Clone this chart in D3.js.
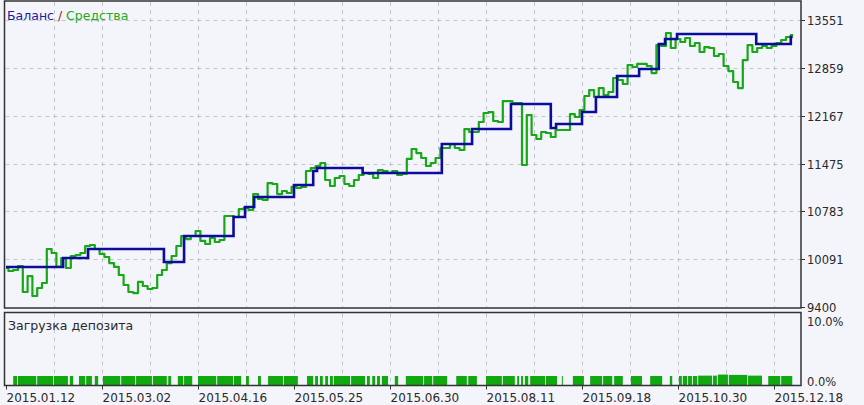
<!DOCTYPE html>
<html><head><meta charset="utf-8">
<script src="https://cdn.jsdelivr.net/npm/d3@7"></script>
<style>
html,body{margin:0;padding:0;background:#f4f4fb;}
svg{display:block;font-family:"DejaVu Sans",sans-serif;}
</style></head>
<body><svg id="c" width="864" height="405"></svg>
<script>
// ---- data ----
const dateLabels = ["2015.01.12","2015.03.02","2015.04.16","2015.05.25","2015.06.30","2015.08.11","2015.09.18","2015.10.30","2015.12.18"];
const dateLabelIdx = [0,20,40,60,80,100,120,140,160];
const yTicks = [9400,10091,10783,11475,12167,12859,13551];
const loadTicks = [0,10];

// equity ("Средства"), one value per step
const equity = [
9964,9921,9935,9993,9617,9848,9559,9675,9747,10239,
10181,9979,10109,9964,10138,10152,10181,10282,10297,10239,
10167,10123,10036,9979,9863,9718,9617,9602,9762,9704,
9660,9675,9863,9935,10036,10138,10282,10427,10383,10427,
10499,10355,10311,10398,10340,10369,10716,10716,10702,10817,
10832,10803,11034,10962,10948,11193,11179,11034,11078,11049,
11136,11121,11136,11367,11410,11439,11483,11237,11150,11266,
11295,11179,11150,11237,11309,11338,11324,11266,11381,11367,
11338,11367,11309,11324,11541,11685,11627,11555,11439,11483,
11555,11700,11700,11757,11700,11671,11974,11931,11931,12076,
12206,12220,12090,12076,12379,12379,12350,12350,11454,12177,
11888,11830,11931,11917,11859,11960,11960,11960,12191,12148,
12249,12452,12538,12437,12567,12466,12510,12712,12683,12625,
12900,12871,12915,12915,12886,12784,13189,13175,13363,13146,
13276,13233,13291,13175,13218,13088,13160,13146,13030,13059,
12886,12813,12654,12567,12972,13189,13088,13146,13175,13146,
13175,13218,13262,13305,13334];

// balance ("Баланс"): step index and new value
const balanceIdx = [0,11.9,17.1,32.9,37.1,47.4,49.8,51.7,60.0,64.0,64.8,74.3,90.8,97.1,105.2,113.5,114.6,120.0,122.9,127.3,131.9,136.0,137.3,139.8,156.3,163.5,163.9];
const balanceVal = [9979,10109,10239,10051,10427,10702,10846,10991,11165,11367,11410,11338,11757,11974,12336,11989,12047,12220,12437,12741,12842,13204,13276,13348,13204,13305,13305];

// deposit load ("Загрузка депозита"): segments start, end, value %
const loadStart = [1.5,2.5,6.5,10.0,13.3,15.2,16.7,18.5,20.2,24.0,27.1,30.6,33.8,35.8,37.1,40.0,44.0,47.5,50.0,52.5,54.6,57.9,62.7,64.4,65.4,66.5,67.5,68.3,71.9,75.2,76.3,77.3,78.3,81.0,83.3,87.1,89.0,93.8,96.3,100.0,103.5,106.5,107.3,108.1,109.2,112.5,115.8,118.1,121.7,124.4,126.7,130.2,134.2,138.3,140.2,141.0,142.1,143.1,144.2,147.3,148.3,150.6,154.6,158.8,161.5];
const loadEnd   = [2.3,6.3,9.8,12.9,14.0,16.5,17.9,19.2,23.8,26.9,30.4,33.5,34.4,36.9,38.8,43.8,47.3,49.0,50.6,53.1,57.7,60.8,64.0,65.0,66.0,67.1,68.1,71.7,74.8,75.8,76.9,77.9,79.6,81.7,86.9,88.8,91.9,96.0,98.1,103.3,106.0,106.9,107.7,108.8,112.3,114.8,116.0,120.4,124.2,126.3,128.5,132.5,136.7,138.8,140.8,141.9,142.9,144.0,147.1,148.1,150.4,154.4,157.5,161.3,163.8];
const loadVal   = [1.25,1.25,1.25,1.25,1.25,1.25,1.25,1.25,1.25,1.25,1.25,1.25,1.25,1.25,1.25,1.25,1.25,1.25,1.25,1.25,1.25,1.25,1.25,1.25,1.25,1.25,1.25,1.25,1.25,1.25,1.25,1.25,1.25,1.25,1.25,1.25,1.25,1.25,1.25,1.25,1.25,1.25,1.25,1.25,1.25,1.25,1.25,1.25,1.25,1.25,1.25,1.25,1.25,1.25,1.25,1.25,1.25,1.25,1.3,1.3,1.45,1.4,1.3,1.25,1.25];

// ---- chart ----
const svg = d3.select("#c");
const L = 4.5, R = 801, T = 1, B = 308, T2 = 312.5, B2 = 385.5;
const x = d3.scaleLinear().domain([0,165.625]).range([6,801]);
const y = d3.scaleLinear().domain([9400,13551]).range([307,20]);
const yl = d3.scaleLinear().domain([0,10]).range([385,313]);
const gridCol = "#c4c4cc", textCol = "#2a2a2a";

svg.append("rect").attr("width",864).attr("height",405).attr("fill","#f4f4fb");

// grids
const gridIdx = d3.range(10,166,10);
const g = svg.append("g").attr("stroke",gridCol).attr("stroke-dasharray","4,4").attr("stroke-width",1);
gridIdx.forEach(i=>{
  const xx = Math.round(x(i))+0.5;
  g.append("line").attr("x1",xx).attr("x2",xx).attr("y1",T+1).attr("y2",B);
  g.append("line").attr("x1",xx).attr("x2",xx).attr("y1",T2+1).attr("y2",B2);
});
yTicks.slice(1).forEach(v=>{
  const yy = Math.round(y(v))+0.5;
  g.append("line").attr("x1",L+1).attr("x2",R).attr("y1",yy).attr("y2",yy);
});

// deposit load bars
svg.append("g").selectAll("rect").data(loadStart.map((s,i)=>({s,e:loadEnd[i],v:loadVal[i]})))
  .join("rect")
  .attr("x",d=>x(d.s)).attr("width",d=>Math.max(1,x(d.e)-x(d.s)))
  .attr("y",d=>yl(d.v)).attr("height",d=>yl(0)-yl(d.v))
  .attr("fill","#0fa80f");

// equity line
const eqLine = d3.line().x((d,i)=>x(i)).y(d=>y(d)).curve(d3.curveStep);
svg.append("path").datum(equity).attr("d",eqLine)
  .attr("fill","none").attr("stroke","#16a816").attr("stroke-width",2.2).attr("stroke-linejoin","round");

// balance line
const balLine = d3.line().x(d=>x(d[0])).y(d=>y(d[1])).curve(d3.curveStepAfter);
svg.append("path").datum(balanceIdx.map((b,i)=>[b,balanceVal[i]])).attr("d",balLine)
  .attr("fill","none").attr("stroke","#0c0c9c").attr("stroke-width",2.6);

// borders
svg.append("rect").attr("x",L).attr("y",T).attr("width",R-L).attr("height",B-T)
  .attr("fill","none").attr("stroke","#333").attr("stroke-width",1.5);
svg.append("rect").attr("x",L).attr("y",T2).attr("width",R-L).attr("height",B2-T2)
  .attr("fill","none").attr("stroke","#333").attr("stroke-width",1.5);

// right axis
const ay = svg.append("g").attr("font-size",11.5).attr("fill",textCol);
yTicks.forEach(v=>{
  const yy = Math.round(y(v))+0.5;
  ay.append("line").attr("x1",R).attr("x2",R+4).attr("y1",yy).attr("y2",yy).attr("stroke","#333");
  ay.append("text").attr("x",807).attr("y",yy).attr("dy","0.35em").text(v);
});
loadTicks.forEach(v=>{
  ay.append("text").attr("x",807).attr("y",v===0?382:322).attr("dy","0.35em").text(v.toFixed(1)+"%");
});

// bottom axis
const ax = svg.append("g").attr("font-size",12).attr("fill",textCol);
dateLabelIdx.forEach((d,i)=>{
  const xx = Math.round(x(d))+0.5;
  ax.append("line").attr("x1",xx).attr("x2",xx).attr("y1",B2).attr("y2",B2+4).attr("stroke","#333");
  ax.append("text").attr("x",xx).attr("y",398).attr("dy","0.35em").text(dateLabels[i]);
});

// legends
const lg = svg.append("text").attr("x",7).attr("y",16).attr("dy","0.35em").attr("font-size",12.5);
lg.append("tspan").attr("fill","#1c1c9c").text("Баланс");
lg.append("tspan").attr("fill","#8a2a1a").text(" / ");
lg.append("tspan").attr("fill","#22aa22").text("Средства");
svg.append("text").attr("x",8).attr("y",326).attr("dy","0.35em").attr("font-size",12.5).attr("fill",textCol).text("Загрузка депозита");
</script></body></html>
